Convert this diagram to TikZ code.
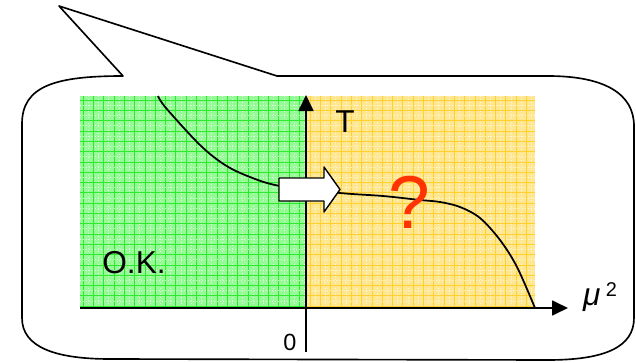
\documentclass[tikz,border=0pt]{standalone}
\usepackage{fontspec}
\setmainfont{Liberation Sans}
\usetikzlibrary{arrows.meta}
\definecolor{phGreenFill}{HTML}{96FA96}
\definecolor{phGreenLine}{HTML}{2EEA2E}
\definecolor{phYellowFill}{HTML}{FFE690}
\definecolor{phYellowLine}{HTML}{FFD02E}
\definecolor{phRed}{HTML}{FF3300}

\tikzset{
  axis/.style={line width=1.5pt, -{Triangle[length=0.48cm, width=0.45cm]}},
  lbl/.style={inner sep=0pt, anchor=base, font=\fontsize{27}{32}\selectfont},
  cellline/.style={line width=0.45pt},
  speck/.style={white, line width=0.5pt, dash pattern=on 0.6pt off 2pt, opacity=0.7}
}

\begin{document}
\begin{tikzpicture}[x=0.03cm, y=-0.03cm, line join=round]

% --- PARAMETERS ---
\def\xL{80}     % left of diagram
\def\xM{306}    % mu^2 = 0
\def\xR{535}    % right of diagram
\def\yT{96}     % top of diagram
\def\yB{308}    % horizontal axis
\def\cell{10.3} % pattern cell

\useasboundingbox (0,0) rectangle (636,363);

% --- CALLOUT BUBBLE ---
\draw[line width=1.4pt, fill=white]
  (22,124) .. controls (22,86) and (55,76) .. (123,76) -- (59,6) -- (277,76)
  -- (548,76) .. controls (605,76) and (634,94) .. (634,126)
  -- (634,318) .. controls (634,347) and (605,360) .. (548,360)
  -- (110,359) .. controls (55,359) and (22,347) .. (22,318) -- cycle;

% --- REGIONS ---
\fill[phGreenFill] (\xL,\yT) rectangle (\xM,\yB);
\fill[phYellowFill] (\xM,\yT) rectangle (\xR,\yB);

% --- PATTERN (cells, with white specks between) ---
\foreach \i in {0,...,21} {
  \pgfmathsetmacro\xpos{\xL + 3 + \i*\cell}
  \draw[cellline, phGreenLine] (\xpos,\yT) -- (\xpos,\yB);
  \draw[speck] (\xpos + \cell/2,\yT) -- (\xpos + \cell/2,\yB);
}
\foreach \i in {0,...,21} {
  \pgfmathsetmacro\xpos{\xM + 4 + \i*\cell}
  \draw[cellline, phYellowLine] (\xpos,\yT) -- (\xpos,\yB);
  \draw[speck] (\xpos + \cell/2,\yT) -- (\xpos + \cell/2,\yB);
}
\foreach \j in {0,...,20} {
  \pgfmathsetmacro\ypos{\yT + 4 + \j*\cell}
  \draw[cellline, phGreenLine] (\xL,\ypos) -- (\xM,\ypos);
  \draw[cellline, phYellowLine] (\xM,\ypos) -- (\xR,\ypos);
  \draw[speck] (\xL,\ypos + \cell/2) -- (\xR,\ypos + \cell/2);
}

% --- PHASE LINE ---
\draw[line width=1.5pt] plot[smooth, tension=0.55] coordinates {
  (158,96) (166,108) (200,145) (225,165) (250,177) (280,186)
  (340,193) (383,196) (420,200) (440,202) (460,207) (480,218)
  (500,240) (517,267) (535,308)};

% --- AXES ---
\coordinate (xstart) at (\xL,\yB);
\coordinate (xend) at (568,\yB);
\coordinate (ystart) at (\xM,352);
\coordinate (yend) at (\xM,95);
\draw[axis] (xstart) -- (xend);
\draw[axis] (ystart) -- (yend);

% --- SHIFT ARROW ---
\draw[line width=1.2pt, fill=white]
  (279,178) -- (324,178) -- (324,167) -- (340,189.5)
  -- (324,212) -- (324,201) -- (279,201) -- cycle;

% --- LABELS ---
\node[lbl] (tlabel) at (345,132) {T};
\node[lbl, anchor=base west] (mulabel) at (583,305)
  {\textit{μ}\,\raisebox{7pt}{\fontsize{17}{20}\selectfont 2}};
\node[lbl, font=\fontsize{20}{24}\selectfont] (zero) at (290,350) {0};
\node[lbl] (oklabel) at (134,273) {O.K.};
\node[lbl, font=\fontsize{64}{72}\selectfont, text=phRed] (qmark) at (409,228) {?};

\end{tikzpicture}
\end{document}
